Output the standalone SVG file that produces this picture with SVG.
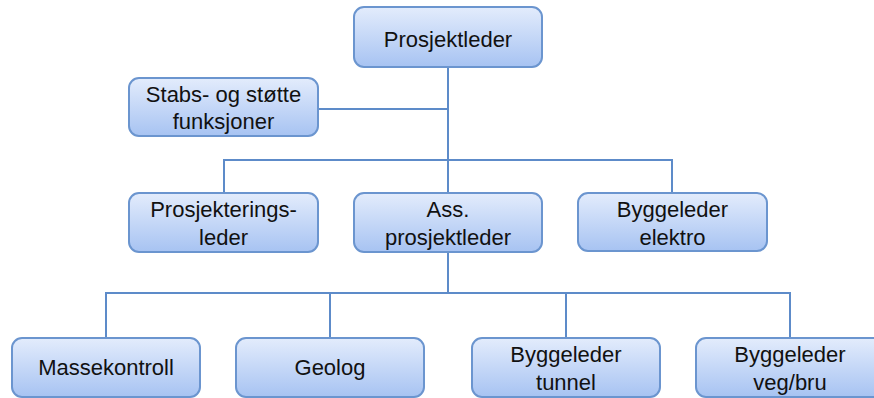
<svg xmlns="http://www.w3.org/2000/svg" width="874" height="398" viewBox="0 0 874 398">
<defs>
<linearGradient id="g" x1="0" y1="0" x2="0" y2="1">
<stop offset="0" stop-color="#e3ecfc"/>
<stop offset="1" stop-color="#a7c3f2"/>
</linearGradient>
<style>
.box{fill:url(#g);stroke:#6b95cf;stroke-width:2}
.t{font-family:"Liberation Sans",Arial,sans-serif;font-size:22px;fill:#111;text-anchor:middle}
.c{fill:none;stroke:#5d8bc9;stroke-width:2}
</style>
</defs>
<rect width="874" height="398" fill="#fff"/>
<g id="connectors">
<path class="c" d="M448 67V193"/>
<path class="c" d="M318 109H448"/>
<path class="c" d="M224 193V160H672V193"/>
<path class="c" d="M448 252V293"/>
<path class="c" d="M106 338V293H790V338"/>
<path class="c" d="M330 293V338M566 293V338"/>
</g>
<g id="prosjektleder"><rect class="box" x="354" y="7" width="188" height="60" rx="10"/><text class="t" x="448" y="47">Prosjektleder</text></g>
<g id="stabs"><rect class="box" x="129" y="78" width="189" height="58" rx="10"/><text class="t" x="223.5" y="102">Stabs- og støtte</text><text class="t" x="223.5" y="129">funksjoner</text></g>
<g id="prosjekteringsleder"><rect class="box" x="129" y="193" width="189" height="59" rx="10"/><text class="t" x="223.5" y="217">Prosjekterings-</text><text class="t" x="223.5" y="245">leder</text></g>
<g id="ass"><rect class="box" x="354" y="193" width="188" height="59" rx="10"/><text class="t" x="448" y="217">Ass.</text><text class="t" x="448" y="245">prosjektleder</text></g>
<g id="elektro"><rect class="box" x="578" y="193" width="189" height="58" rx="10"/><text class="t" x="672.5" y="217">Byggeleder</text><text class="t" x="672.5" y="245">elektro</text></g>
<g id="massekontroll"><rect class="box" x="12" y="338" width="188" height="59" rx="10"/><text class="t" x="106" y="375">Massekontroll</text></g>
<g id="geolog"><rect class="box" x="236" y="338" width="188" height="59" rx="10"/><text class="t" x="330" y="375">Geolog</text></g>
<g id="tunnel"><rect class="box" x="472" y="338" width="188" height="59" rx="10"/><text class="t" x="566" y="362">Byggeleder</text><text class="t" x="566" y="390">tunnel</text></g>
<g id="vegbru"><rect class="box" x="696" y="338" width="188" height="59" rx="10"/><text class="t" x="790" y="362">Byggeleder</text><text class="t" x="790" y="390">veg/bru</text></g>
</svg>
